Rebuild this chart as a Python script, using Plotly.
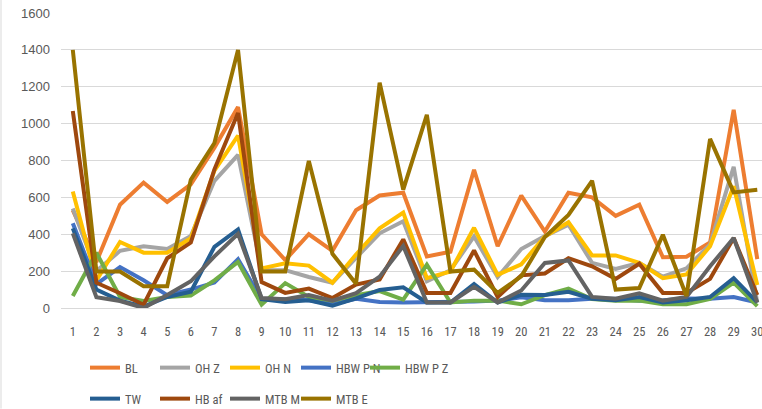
import plotly.graph_objects as go

categories = [str(i) for i in range(1, 31)]

BL = [530, 250, 560, 680, 575, 670, 870, 1090, 400, 260, 400, 310, 530, 610, 625, 280, 305, 750, 335, 610, 415, 625, 600, 500, 560, 275, 278, 355, 1075, 265]
OH_Z = [540, 200, 310, 335, 320, 390, 690, 830, 205, 205, 168, 137, 272, 405, 470, 145, 205, 388, 168, 320, 390, 452, 245, 212, 245, 170, 215, 345, 765, 30]
OH_N = [632, 150, 358, 300, 300, 378, 745, 935, 215, 242, 230, 137, 290, 432, 517, 162, 198, 435, 180, 237, 388, 465, 285, 285, 245, 162, 182, 335, 660, 125]
HBW_P_N = [460, 130, 222, 150, 70, 100, 138, 265, 45, 48, 42, 22, 50, 32, 30, 30, 32, 35, 40, 58, 42, 42, 50, 50, 40, 42, 52, 50, 60, 30]
HBW_P_Z = [65, 300, 60, 38, 60, 68, 150, 250, 18, 135, 60, 40, 70, 92, 45, 235, 30, 40, 40, 20, 70, 105, 48, 40, 40, 20, 20, 50, 138, 10]
TW = [432, 100, 40, 8, 60, 88, 332, 426, 48, 32, 42, 12, 52, 98, 112, 30, 30, 130, 30, 72, 70, 88, 50, 42, 60, 30, 42, 60, 162, 30]
HB_af = [1068, 137, 80, 18, 270, 355, 752, 1058, 140, 82, 105, 54, 127, 155, 372, 82, 82, 312, 60, 177, 187, 270, 226, 158, 240, 82, 82, 158, 380, 70]
MTB_M = [405, 58, 38, 0, 70, 145, 280, 402, 54, 48, 70, 40, 80, 170, 336, 30, 30, 115, 30, 95, 244, 258, 60, 50, 80, 40, 60, 226, 380, 30]
MTB_E = [1400, 198, 198, 118, 118, 696, 895, 1400, 198, 198, 798, 294, 132, 1222, 642, 1048, 198, 208, 82, 172, 385, 505, 690, 100, 108, 397, 65, 917, 627, 641]

series_names = ["BL", "OH Z", "OH N", "HBW P N", "HBW P Z", "TW", "HB af", "MTB M", "MTB E"]
series_values = [BL, OH_Z, OH_N, HBW_P_N, HBW_P_Z, TW, HB_af, MTB_M, MTB_E]
series_colors = ["#ED7D31", "#A5A5A5", "#FFC000", "#4472C4", "#70AD47",
                 "#255E91", "#9E480E", "#636363", "#997300"]

# legend text start positions (x px) and row centres (y px)
legend_pos = [(125, 368), (195, 368), (265, 368), (336, 368), (405, 368),
              (125, 399), (195, 399), (265, 399), (336, 399)]

NARROW = "Roboto Condensed, Noto Sans Condensed, DejaVu Sans Condensed, Liberation Sans Narrow, Arial Narrow, Liberation Sans, sans-serif"

W, H = 762, 409
ml, mr, mt, mb = 61, 0, 13, 101

fig = go.Figure()
legend_layout = {}
for i, (name, vals, color) in enumerate(zip(series_names, series_values, series_colors)):
    key = "legend" if i == 0 else f"legend{i + 1}"
    fig.add_trace(go.Scatter(
        x=categories, y=vals, name=name, mode="lines",
        line=dict(color=color, width=4),
        legend=key,
    ))
    tx, ty = legend_pos[i]
    legend_layout[key] = dict(
        orientation="h", xref="container", yref="container",
        xanchor="left", yanchor="middle",
        x=(tx - 40) / W, y=1 - ty / H,
        font=dict(family=NARROW, size=12.5, color="#595959"),
        bgcolor="rgba(0,0,0,0)", itemwidth=30,
    )

fig.update_layout(
    width=W, height=H,
    margin=dict(l=ml, r=mr, t=mt, b=mb, pad=0),
    paper_bgcolor="white", plot_bgcolor="white",
    showlegend=True,
    **legend_layout,
    xaxis=dict(
        type="category", range=[-0.5, 29.2],
        showgrid=False, showline=True, linecolor="#D9D9D9", linewidth=1,
        ticks="", tickfont=dict(family=NARROW, size=12.5, color="#595959"),
        ticklabelstandoff=12,
    ),
    yaxis=dict(
        range=[0, 1600], tickmode="linear", tick0=0, dtick=200,
        showgrid=True, gridcolor="#D9D9D9", gridwidth=1,
        zeroline=False, showline=False, ticks="",
        tickfont=dict(family="Liberation Sans, Arial, sans-serif", size=13, color="#595959"),
        ticklabelstandoff=10,
    ),
)

fig.add_shape(type="line", xref="paper", yref="paper",
              x0=(1 - ml) / (W - ml - mr), x1=(1 - ml) / (W - ml - mr),
              y0=(308.3 - H) / 295.3, y1=308.3 / 295.3,
              line=dict(color="#D9D9D9", width=1))

fig.write_html(
    "out.html",
    config={"displayModeBar": False},
    post_script="document.body.style.margin='0px';document.body.style.overflow='hidden';",
)
